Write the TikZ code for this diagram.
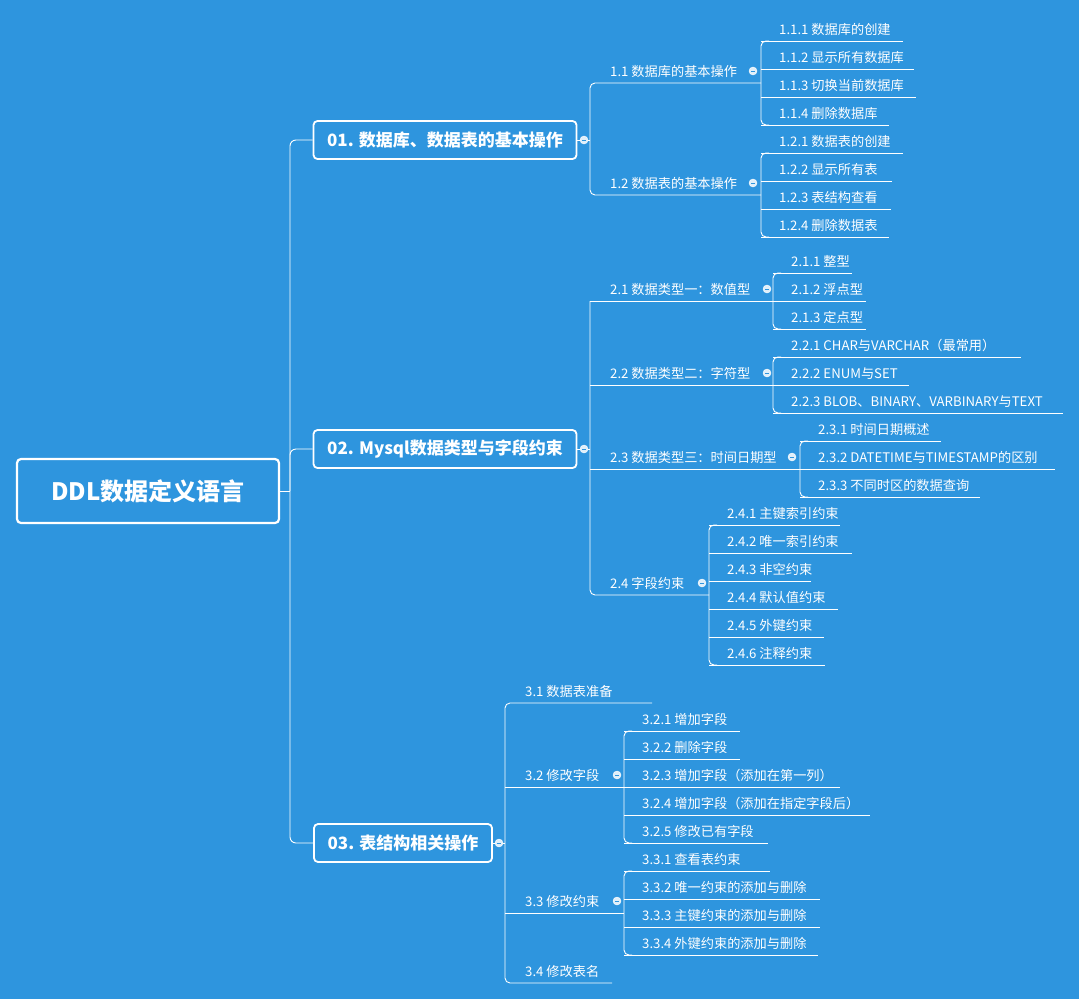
\documentclass[tikz,border=0pt]{standalone}
\usepackage{fontspec}
\setmainfont{Noto Sans CJK SC}
\definecolor{bg}{HTML}{2E95DE}
\tikzset{
 ln/.style={draw=white,line width=0.9pt},
 leaf/.style={text=white,font=\fontsize{13.2}{15}\selectfont,inner sep=0pt,anchor=base west},
 sect/.style={draw=white,line width=1.8pt,rounded corners=4pt,fill=bg,text=white,font=\fontsize{17}{19}\selectfont\bfseries,inner sep=0pt},
 tog/.style={circle,fill=white!85!bg,draw=white,inner sep=0pt,minimum size=8pt,path picture={\draw[bg,line width=1pt] ([xshift=-2pt]path picture bounding box.center)--([xshift=2pt]path picture bounding box.center);}}
}
% leaf: x, y(text centre), xend, text, name
\newcommand\lf[5]{\node[leaf] (#5) at ({#1+18},{#2+5}) {#4};\draw[ln] (#1,{#2+12}) -- (#3,{#2+12});}
% bracket: x, ytop, ybot
\newcommand\brk[3]{\draw[ln,rounded corners=5pt] ({#1+8},#2)--(#1,#2)--(#1,#3)--({#1+8},#3);}
\begin{document}
\begin{tikzpicture}[x=1pt,y=-1pt]
\fill[bg] (0,0) rectangle (1079,999);
\useasboundingbox (0,0) rectangle (1079,999);
% root
\node[sect,line width=2.2pt,minimum width=262pt,minimum height=64pt,font=\fontsize{24}{26}\selectfont\bfseries] (root) at (148,491) {DDL数据定义语言};
\node[sect,minimum width=263pt,minimum height=38pt] (s1) at (445,140) {01. 数据库、数据表的基本操作};
\node[sect,minimum width=263pt,minimum height=38pt] (s2) at (445,449) {02. Mysql数据类型与字段约束};
\node[sect,minimum width=178pt,minimum height=38pt] (s3) at (403,843) {03. 表结构相关操作};
\coordinate (rj) at (290,491);
\draw[ln] (root.east) -- (rj);
\draw[ln,rounded corners=6pt] (s1.west) -| (rj) |- (s3.west);
\draw[ln,rounded corners=6pt] (rj) |- (s2.west);
% section 1
\draw[ln] (s1.east) -- (590,140);
\draw[ln,rounded corners=5pt] (761,83) -- (590,83) -- (590,195) -- (761,195);
\node[leaf] (p11) at (610,76) {1.1 数据库的基本操作};
\node[leaf] (p12) at (610,188) {1.2 数据表的基本操作};
\brk{761}{41}{125}
\lf{761}{29}{903}{1.1.1 数据库的创建}{a1}
\lf{761}{57}{914}{1.1.2 显示所有数据库}{a2}
\lf{761}{85}{916}{1.1.3 切换当前数据库}{a3}
\lf{761}{113}{889}{1.1.4 删除数据库}{a4}
\brk{761}{153}{237}
\lf{761}{141}{903}{1.2.1 数据表的创建}{b1}
\lf{761}{169}{892}{1.2.2 显示所有表}{b2}
\lf{761}{197}{891}{1.2.3 表结构查看}{b3}
\lf{761}{225}{889}{1.2.4 删除数据表}{b4}
\node[tog] at (753,71) {};\node[tog] at (753,183) {};\node[tog] at (584,140) {};
% section 2
\draw[ln] (s2.east) -- (590,449);
\draw[ln] (590,301) -- (773,301);
\draw[ln] (590,385) -- (773,385);
\draw[ln] (590,469) -- (800,469);
\draw[ln,rounded corners=5pt] (590,301) -- (590,595) -- (709,595);
\node[leaf] (p21) at (610,294) {2.1 数据类型一：数值型};
\node[leaf] (p22) at (610,378) {2.2 数据类型二：字符型};
\node[leaf] (p23) at (610,462) {2.3 数据类型三：时间日期型};
\node[leaf] (p24) at (610,588) {2.4 字段约束};
\brk{773}{273}{329}
\lf{773}{261}{852}{2.1.1 整型}{c1}
\lf{773}{289}{866}{2.1.2 浮点型}{c2}
\lf{773}{317}{866}{2.1.3 定点型}{c3}
\brk{773}{357}{413}
\lf{773}{345}{1021}{2.2.1 CHAR与VARCHAR（最常用）}{d1}
\lf{773}{373}{909}{2.2.2 ENUM与SET}{d2}
\lf{773}{401}{1063}{2.2.3 BLOB、BINARY、VARBINARY与TEXT}{d3}
\brk{800}{441}{497}
\lf{800}{429}{941}{2.3.1 时间日期概述}{e1}
\lf{800}{457}{1055}{2.3.2 DATETIME与TIMESTAMP的区别}{e2}
\lf{800}{485}{980}{2.3.3 不同时区的数据查询}{e3}
\brk{709}{525}{665}
\lf{709}{513}{840}{2.4.1 主键索引约束}{f1}
\lf{709}{541}{852}{2.4.2 唯一索引约束}{f2}
\lf{709}{569}{811}{2.4.3 非空约束}{f3}
\lf{709}{597}{838}{2.4.4 默认值约束}{f4}
\lf{709}{625}{824}{2.4.5 外键约束}{f5}
\lf{709}{653}{825}{2.4.6 注释约束}{f6}
\node[tog] at (767,289) {};\node[tog] at (767,373) {};\node[tog] at (792,457) {};\node[tog] at (702,583) {};\node[tog] at (584,449) {};
% section 3
\draw[ln] (s3.east) -- (505,843);
\draw[ln,rounded corners=5pt] (652,703) -- (505,703) -- (505,983) -- (612,983);
\draw[ln] (505,787) -- (624,787);
\draw[ln] (505,913) -- (624,913);
\node[leaf] (p31) at (525,696) {3.1 数据表准备};
\node[leaf] (p32) at (525,780) {3.2 修改字段};
\node[leaf] (p33) at (525,906) {3.3 修改约束};
\node[leaf] (p34) at (525,976) {3.4 修改表名};
\brk{624}{731}{843}
\lf{624}{719}{740}{3.2.1 增加字段}{g1}
\lf{624}{747}{740}{3.2.2 删除字段}{g2}
\lf{624}{775}{840}{3.2.3 增加字段（添加在第一列）}{g3}
\lf{624}{803}{870}{3.2.4 增加字段（添加在指定字段后）}{g4}
\lf{624}{831}{768}{3.2.5 修改已有字段}{g5}
\brk{624}{871}{955}
\lf{624}{859}{770}{3.3.1 查看表约束}{h1}
\lf{624}{887}{820}{3.3.2 唯一约束的添加与删除}{h2}
\lf{624}{915}{820}{3.3.3 主键约束的添加与删除}{h3}
\lf{624}{943}{818}{3.3.4 外键约束的添加与删除}{h4}
\node[tog] at (617,775) {};\node[tog] at (617,901) {};\node[tog] at (499,843) {};
\end{tikzpicture}
\end{document}
